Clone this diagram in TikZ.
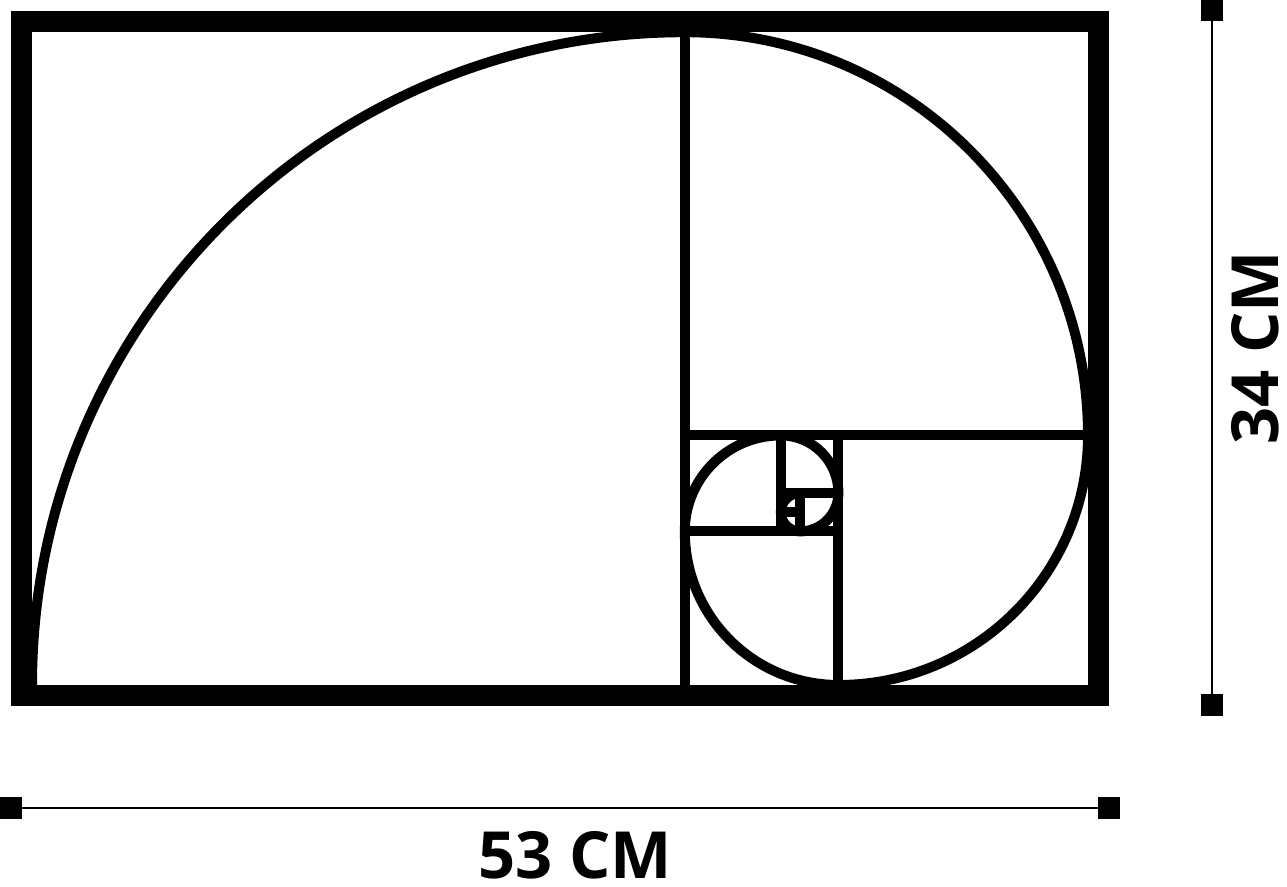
\documentclass[tikz,border=0pt]{standalone}
\usepackage{fontspec}
\setmainfont{Open Sans}
\usepackage{tikz}

\begin{document}
\begin{tikzpicture}[x=0.384cm,y=0.384cm,
    part/.style={line width=0.2cm},
    frame/.style={line width=0.42cm},
    dimline/.style={line width=0.8pt},
    endmark/.style={fill=black,minimum size=0.43cm,inner sep=0pt},
    dimlabel/.style={font=\fontsize{37}{38}\selectfont\bfseries,inner sep=0pt}]
    \useasboundingbox (-1.667,-10.521) rectangle (65.365,35.677);
    % outer frame
    \draw[frame] (-0.55,-0.55) rectangle (55.55,34.55);
    % squares
    \draw[part] (34,0) -- (34,34);
    \draw[part] (34,13) -- (55,13);
    \draw[part] (42,0) -- (42,13);
    \draw[part] (34,8) -- (42,8);
    \draw[part] (39,8) -- (39,13);
    \draw[part] (39,10) -- (42,10);
    \draw[part] (40,8) -- (40,10);
    \draw[part] (39,9) -- (40,9);
    % spiral
    \draw[part] (0,0) arc (180:90:34) arc (90:0:21) arc (0:-90:13)
        arc (-90:-180:8) arc (180:90:5) arc (90:0:3) arc (0:-90:2)
        arc (-90:-180:1) arc (180:90:1);
    % width
    \node[endmark] (wl) at (-1.09,-6.41) {};
    \node[endmark] (wr) at (56.09,-6.41) {};
    \draw[dimline] (wl) -- (wr);
    \node[dimlabel] (wlab) at (28.3,-8.85) {53 CM};
    % height
    \node[endmark] (ht) at (61.46,35.16) {};
    \node[endmark] (hb) at (61.46,-1.04) {};
    \draw[dimline] (ht) -- (hb);
    \node[dimlabel,rotate=90] (hlab) at (63.7,17.55) {34 CM};
\end{tikzpicture}
\end{document}
